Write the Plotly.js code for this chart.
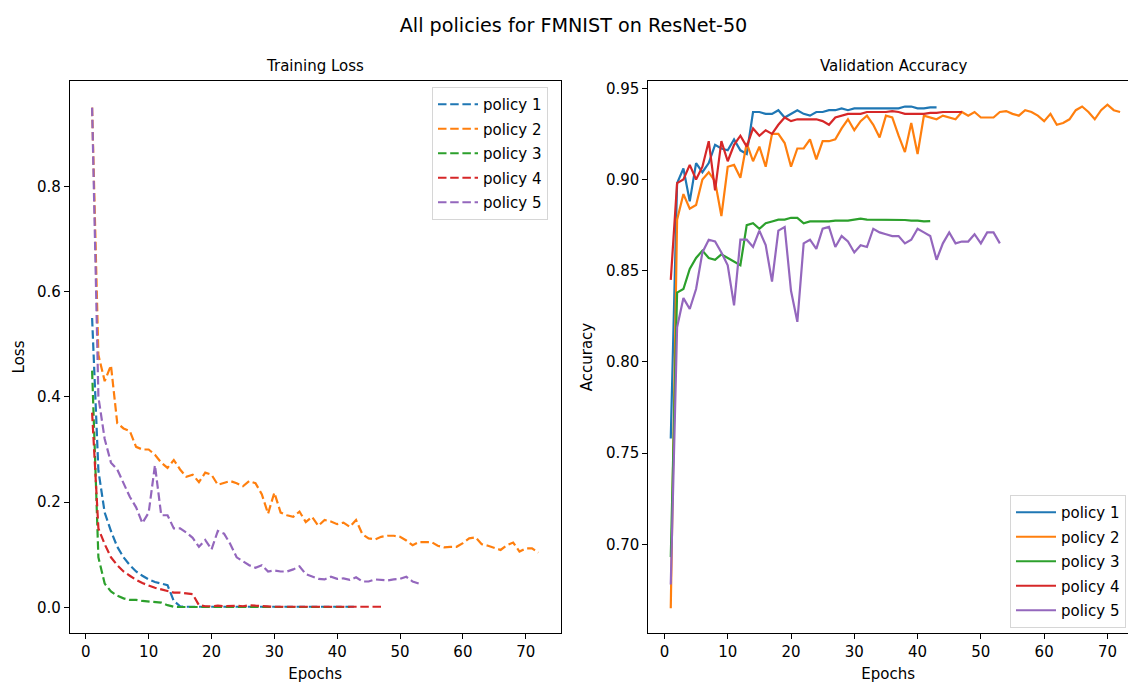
<!DOCTYPE html>
<html>
<head>
<meta charset="utf-8">
<script src="https://cdn.plot.ly/plotly-3.0.1.min.js"></script>
<style>
  html, body { margin: 0; padding: 0; background: #fff; }
  #chart { width: 1128px; height: 683px; }
</style>
</head>
<body>
<div id="chart"></div>
<script>
// Series labels and colours
const policyNames = ["policy 1", "policy 2", "policy 3", "policy 4", "policy 5"];
const policyColors = ["#1f77b4", "#ff7f0e", "#2ca02c", "#d62728", "#9467bd"];

// Training loss per epoch
const lossPolicy1 = [0.55, 0.26, 0.18, 0.145, 0.115, 0.095, 0.08, 0.068, 0.06, 0.053,
  0.048, 0.045, 0.042, 0.012, 0.002, 0.001, 0.001, 0.001, 0.001, 0.001,
  0.001, 0.001, 0.001, 0.001, 0.001, 0.001, 0.001, 0.001, 0.001, 0.001,
  0.001, 0.001, 0.001, 0.001, 0.001, 0.001, 0.001, 0.001, 0.001, 0.001,
  0.001, 0.001, 0.001];
const lossPolicy2 = [0.95, 0.48, 0.43, 0.46, 0.35, 0.34, 0.335, 0.305, 0.30, 0.30,
  0.29, 0.275, 0.265, 0.28, 0.262, 0.248, 0.252, 0.238, 0.256, 0.252,
  0.233, 0.236, 0.240, 0.236, 0.230, 0.240, 0.236, 0.215, 0.178, 0.218,
  0.18, 0.175, 0.172, 0.182, 0.162, 0.172, 0.155, 0.166, 0.163, 0.158,
  0.161, 0.153, 0.166, 0.139, 0.131, 0.129, 0.134, 0.136, 0.136, 0.134,
  0.127, 0.118, 0.124, 0.124, 0.124, 0.117, 0.114, 0.115, 0.115, 0.122,
  0.131, 0.133, 0.120, 0.117, 0.113, 0.109, 0.118, 0.123, 0.106, 0.112,
  0.112, 0.104];
const lossPolicy3 = [0.45, 0.095, 0.045, 0.03, 0.022, 0.017, 0.014, 0.014, 0.012, 0.011,
  0.011, 0.009, 0.004, 0.001, 0.0005, 0.0005, 0.0005, 0.0005, 0.0005, 0.0005,
  0.0005, 0.0005, 0.0005, 0.0005, 0.0005, 0.0005, 0.0005, 0.0005, 0.0005, 0.0005,
  0.0005, 0.0005, 0.0005, 0.0005, 0.0005, 0.0005, 0.0005, 0.0005, 0.0005, 0.0005,
  0.0005, 0.0005];
const lossPolicy4 = [0.37, 0.15, 0.12, 0.095, 0.08, 0.068, 0.06, 0.052, 0.046, 0.041,
  0.037, 0.034, 0.031, 0.028, 0.028, 0.027, 0.025, 0.004, 0.002, 0.002,
  0.003, 0.002, 0.003, 0.003, 0.002, 0.004, 0.003, 0.002, 0.001, 0.001,
  0.001, 0.001, 0.001, 0.001, 0.001, 0.001, 0.001, 0.001, 0.001, 0.001,
  0.001, 0.001, 0.001, 0.001, 0.001, 0.001, 0.001];
const lossPolicy5 = [0.95, 0.40, 0.32, 0.275, 0.262, 0.235, 0.21, 0.19, 0.16, 0.18,
  0.27, 0.175, 0.175, 0.15, 0.15, 0.142, 0.132, 0.115, 0.128, 0.11,
  0.145, 0.14, 0.12, 0.095, 0.087, 0.08, 0.075, 0.08, 0.068, 0.07,
  0.068, 0.068, 0.072, 0.078, 0.063, 0.058, 0.054, 0.053, 0.058, 0.054,
  0.055, 0.052, 0.057, 0.049, 0.049, 0.053, 0.052, 0.051, 0.053, 0.054,
  0.058, 0.049, 0.045];

// Validation accuracy per epoch
const accPolicy1 = [0.758, 0.898, 0.906, 0.888, 0.909, 0.904, 0.909, 0.919, 0.917, 0.916,
  0.922, 0.916, 0.914, 0.937, 0.937, 0.936, 0.936, 0.938, 0.934, 0.936,
  0.938, 0.936, 0.935, 0.937, 0.937, 0.938, 0.938, 0.939, 0.938, 0.939,
  0.939, 0.939, 0.939, 0.939, 0.939, 0.939, 0.939, 0.940, 0.940, 0.939,
  0.939, 0.9395, 0.9395];
const accPolicy2 = [0.665, 0.878, 0.892, 0.884, 0.886, 0.900, 0.904, 0.899, 0.880, 0.907,
  0.908, 0.901, 0.920, 0.910, 0.918, 0.907, 0.925, 0.925, 0.920, 0.907,
  0.917, 0.917, 0.922, 0.911, 0.921, 0.921, 0.922, 0.928, 0.933, 0.927,
  0.932, 0.935, 0.930, 0.923, 0.935, 0.934, 0.924, 0.915, 0.931, 0.914,
  0.935, 0.934, 0.933, 0.935, 0.934, 0.933, 0.937, 0.935, 0.937, 0.934,
  0.934, 0.934, 0.937, 0.9375, 0.936, 0.935, 0.938, 0.937, 0.935, 0.932,
  0.936, 0.930, 0.931, 0.933, 0.938, 0.940, 0.937, 0.933, 0.938, 0.941,
  0.938, 0.937];
const accPolicy3 = [0.693, 0.838, 0.840, 0.851, 0.857, 0.861, 0.857, 0.856, 0.859, 0.857,
  0.855, 0.853, 0.875, 0.876, 0.873, 0.876, 0.877, 0.878, 0.878, 0.879,
  0.879, 0.876, 0.877, 0.877, 0.877, 0.877, 0.8775, 0.8775, 0.8775, 0.878,
  0.8785, 0.878, 0.878, 0.878, 0.878, 0.878, 0.8778, 0.8778, 0.8775, 0.8775,
  0.877, 0.8772];
const accPolicy4 = [0.845, 0.898, 0.900, 0.908, 0.900, 0.907, 0.921, 0.894, 0.921, 0.910,
  0.919, 0.924, 0.918, 0.928, 0.924, 0.927, 0.925, 0.930, 0.934, 0.932,
  0.933, 0.933, 0.933, 0.933, 0.932, 0.930, 0.934, 0.935, 0.936, 0.936,
  0.936, 0.937, 0.937, 0.937, 0.937, 0.9375, 0.937, 0.936, 0.936, 0.936,
  0.936, 0.9365, 0.9365, 0.937, 0.937, 0.937, 0.937];
const accPolicy5 = [0.678, 0.819, 0.835, 0.829, 0.840, 0.860, 0.867, 0.866, 0.860, 0.853,
  0.831, 0.867, 0.867, 0.863, 0.872, 0.864, 0.844, 0.872, 0.874, 0.839,
  0.822, 0.865, 0.867, 0.862, 0.873, 0.874, 0.863, 0.869, 0.866, 0.860,
  0.864, 0.863, 0.873, 0.871, 0.870, 0.869, 0.869, 0.865, 0.867, 0.873,
  0.871, 0.869, 0.856, 0.865, 0.871, 0.865, 0.866, 0.866, 0.870, 0.865,
  0.871, 0.871, 0.865];

// Tick labels
const epochTicks = [0, 10, 20, 30, 40, 50, 60, 70];
const lossTicks = [0.0, 0.2, 0.4, 0.6, 0.8];
const accTicks = [0.70, 0.75, 0.80, 0.85, 0.90, 0.95];

const lossSeries = [lossPolicy1, lossPolicy2, lossPolicy3, lossPolicy4, lossPolicy5];
const accSeries = [accPolicy1, accPolicy2, accPolicy3, accPolicy4, accPolicy5];

const epochsFor = (arr) => arr.map((_, i) => i + 1);

const W = 1128, H = 683;
const px = (v) => v / W;
const py = (v) => (H - v) / H;

const FONT = "DejaVu Sans, sans-serif";
const TXT = 15;
const traces = [];

lossSeries.forEach((vals, i) => {
  traces.push({
    type: "scatter", mode: "lines",
    x: epochsFor(vals), y: vals,
    name: policyNames[i],
    line: { color: policyColors[i], width: 2.2, dash: "8.5px,3.7px" },
    xaxis: "x", yaxis: "y",
    legend: "legend", legendgroup: "loss" + i
  });
});
accSeries.forEach((vals, i) => {
  traces.push({
    type: "scatter", mode: "lines",
    x: epochsFor(vals), y: vals,
    name: policyNames[i],
    line: { color: policyColors[i], width: 2.2 },
    xaxis: "x2", yaxis: "y2",
    legend: "legend2", legendgroup: "acc" + i
  });
});

const axisCommon = {
  showgrid: false, zeroline: false,
  showline: true, linecolor: "#000", linewidth: 1,
  ticks: "outside", ticklen: 5, tickwidth: 1, tickcolor: "#000",
  tickfont: { family: FONT, size: TXT, color: "#000" }
};

const yDomain = [py(633), py(81)];

const legendStyle = {
  bgcolor: "rgba(255,255,255,0.8)", bordercolor: "#d6d6d6", borderwidth: 1,
  font: { family: FONT, size: TXT, color: "#000" },
  traceorder: "grouped", tracegroupgap: 2, itemwidth: 40
};

const layout = {
  width: W, height: H,
  margin: { l: 0, r: 0, t: 0, b: 0 },
  paper_bgcolor: "#fff", plot_bgcolor: "#fff",
  font: { family: FONT, color: "#000" },
  showlegend: true,
  title: {
    text: "All policies for FMNIST on ResNet-50",
    x: px(573.5), xanchor: "center", xref: "paper",
    y: py(25), yanchor: "middle", yref: "container",
    font: { family: FONT, size: 19.2, color: "#000" }
  },
  xaxis: Object.assign({}, axisCommon, {
    domain: [px(69.8), px(560.6)], range: [-2.55, 75.55],
    tickvals: epochTicks, ticktext: epochTicks.map(String),
    mirror: true, anchor: "y",
    title: { text: "Epochs", standoff: 9, font: { family: FONT, size: TXT, color: "#000" } }
  }),
  yaxis: Object.assign({}, axisCommon, {
    domain: yDomain, range: [-0.0489, 1.0006],
    tickvals: lossTicks, ticktext: lossTicks.map(v => v.toFixed(1)),
    mirror: true, anchor: "x",
    title: { text: "Loss", standoff: 8, font: { family: FONT, size: TXT, color: "#000" } }
  }),
  xaxis2: Object.assign({}, axisCommon, {
    domain: [px(648.3), 1], range: [-2.55, 73.25],
    tickvals: epochTicks, ticktext: epochTicks.map(String),
    mirror: true, anchor: "y2",
    title: { text: "Epochs", standoff: 9, font: { family: FONT, size: TXT, color: "#000" } }
  }),
  yaxis2: Object.assign({}, axisCommon, {
    domain: yDomain, range: [0.6514, 0.954],
    tickvals: accTicks, ticktext: accTicks.map(v => v.toFixed(2)),
    mirror: false, anchor: "x2",
    title: { text: "Accuracy", standoff: 9, font: { family: FONT, size: TXT, color: "#000" } }
  }),
  legend: Object.assign({}, legendStyle, {
    x: px(432), xanchor: "left", y: py(87), yanchor: "top"
  }),
  legend2: Object.assign({}, legendStyle, {
    x: px(1010), xanchor: "left", y: py(495), yanchor: "top"
  }),
  annotations: [
    { text: "Training Loss", xref: "paper", yref: "paper",
      x: px((69.8 + 560.6) / 2), y: py(66), xanchor: "center", yanchor: "middle",
      showarrow: false, font: { family: FONT, size: TXT, color: "#000" } },
    { text: "Validation Accuracy", xref: "paper", yref: "paper",
      x: px((648.3 + 1139.5) / 2), y: py(66), xanchor: "center", yanchor: "middle",
      showarrow: false, font: { family: FONT, size: TXT, color: "#000" } }
  ]
};

Plotly.newPlot("chart", traces, layout, { displayModeBar: false, staticPlot: true });
</script>
</body>
</html>
